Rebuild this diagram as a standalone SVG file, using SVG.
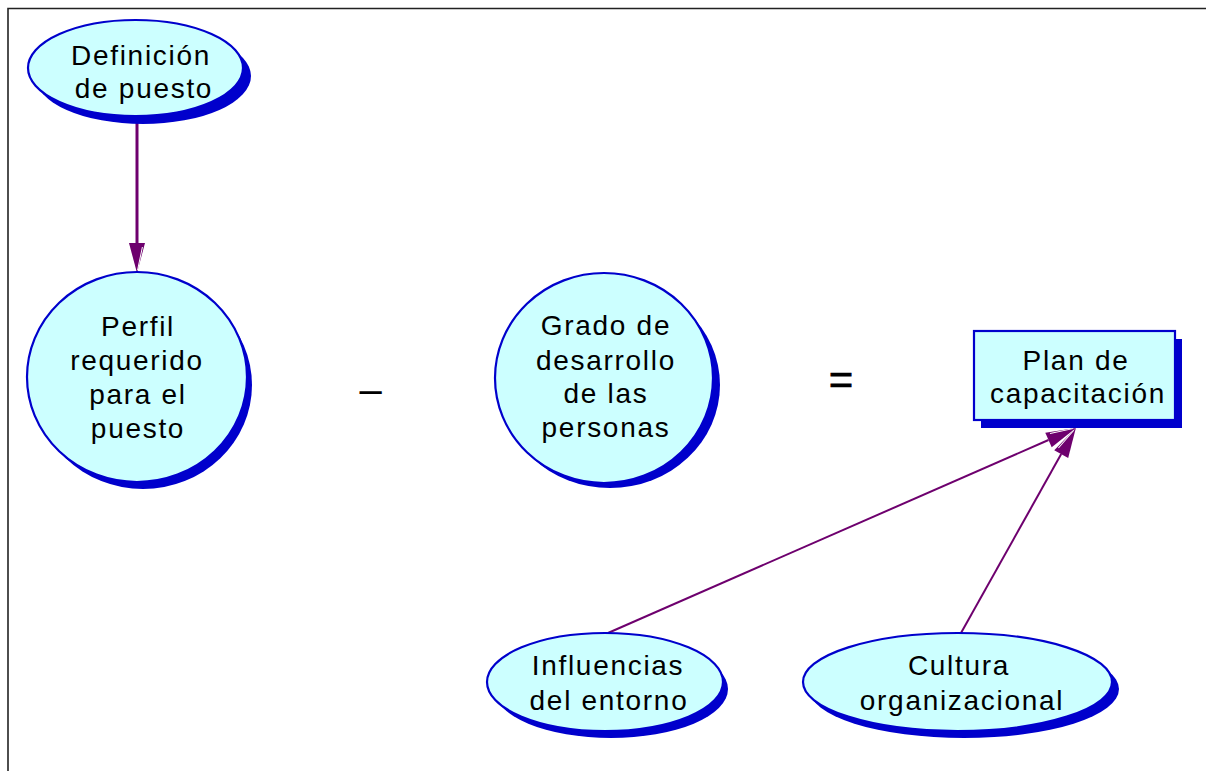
<svg xmlns="http://www.w3.org/2000/svg" width="1206" height="771" viewBox="0 0 1206 771">
<defs>
<style>
.sh{fill:#0000CC;stroke:none}
.nd{fill:#CCFFFF;stroke:#0000CC;stroke-width:2.2}
.t{font-family:"Liberation Sans",Arial,sans-serif;font-size:28px;letter-spacing:1.7px;text-anchor:middle;fill:#000}
.op{font-family:"Liberation Sans",Arial,sans-serif;font-size:40px;text-anchor:middle;fill:#000}
.cn{fill:none;stroke:#6E006E;stroke-width:2}
</style>
<marker id="ah" markerUnits="userSpaceOnUse" viewBox="0 0 32 18" refX="0" refY="9" markerWidth="32" markerHeight="18" orient="auto" overflow="visible">
<path d="M0,1 L30,9 L0,17 Z" fill="#6E006E"/>
<path d="M4,3.6 L27,8.4" stroke="#FFFFFF" stroke-width="1" fill="none"/>
</marker>
</defs>
<rect width="1206" height="771" fill="#FFFFFF"/>
<path d="M8,771 V8.5 H1206" fill="none" stroke="#222222" stroke-width="1.6"/>

<g id="connectors">
<path class="cn" style="stroke-width:3" d="M137,118 V243" marker-end="url(#ah)"/>
<path class="cn" d="M608,633 L1048.5,440" marker-end="url(#ah)"/>
<path class="cn" d="M961,633 L1061.2,454.1" marker-end="url(#ah)"/>
</g>

<g id="definicion">
<ellipse class="sh" cx="143" cy="76" rx="108" ry="48"/>
<ellipse class="nd" cx="135.5" cy="68" rx="107.5" ry="48"/>
<text class="t" x="141" y="65">Definición</text>
<text class="t" x="144" y="98">de puesto</text>
</g>

<g id="perfil">
<ellipse class="sh" cx="143" cy="385" rx="109" ry="104"/>
<ellipse class="nd" cx="137" cy="377" rx="110" ry="105"/>
<text class="t" x="138" y="336">Perfil</text>
<text class="t" x="137" y="370">requerido</text>
<text class="t" x="138" y="404">para el</text>
<text class="t" x="138" y="438">puesto</text>
</g>

<text id="minus" class="op" x="370.5" y="403">–</text>

<g id="grado">
<ellipse class="sh" cx="610" cy="385" rx="110" ry="103"/>
<ellipse class="nd" cx="604" cy="378" rx="109" ry="105"/>
<text class="t" x="606" y="335">Grado de</text>
<text class="t" x="606" y="370">desarrollo</text>
<text class="t" x="606" y="403">de las</text>
<text class="t" x="606" y="437">personas</text>
</g>

<text id="equals" class="op" x="841" y="394" style="font-size:42px;stroke:#000;stroke-width:0.6">=</text>

<g id="plan">
<rect class="sh" x="981" y="339" width="201" height="89"/>
<rect class="nd" x="974" y="331" width="201" height="89"/>
<text class="t" x="1076" y="370">Plan de</text>
<text class="t" x="1078" y="403">capacitación</text>
</g>

<g id="influencias">
<ellipse class="sh" cx="611" cy="689" rx="117" ry="49"/>
<ellipse class="nd" cx="605" cy="682" rx="118" ry="49"/>
<text class="t" x="608" y="675">Influencias</text>
<text class="t" x="609" y="710">del entorno</text>
</g>

<g id="cultura">
<ellipse class="sh" cx="964" cy="689" rx="155" ry="49"/>
<ellipse class="nd" cx="957.5" cy="682" rx="154.5" ry="49"/>
<text class="t" x="959" y="675">Cultura</text>
<text class="t" x="962" y="710">organizacional</text>
</g>
</svg>
